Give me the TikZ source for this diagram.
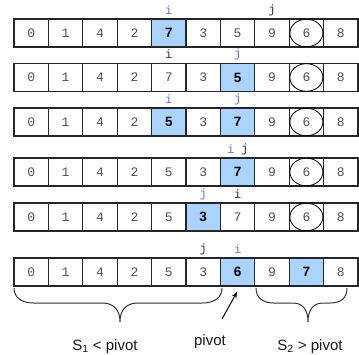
\documentclass[tikz,border=0pt]{standalone}
\usepackage{fontspec}
\setmainfont{Liberation Sans}
\newfontfamily\cellfont{Liberation Mono}
\usetikzlibrary{arrows.meta}
\definecolor{hl}{HTML}{AAD4FF}
\definecolor{ptr}{HTML}{6B6BE6}
\definecolor{num}{HTML}{505050}
\tikzset{
  cell/.style={draw=black!85, line width=1.1pt, minimum width=34.4pt,
    minimum height=28pt, inner sep=0pt, outer sep=0pt,
    font=\cellfont\fontsize{13}{13}\selectfont, text=num},
  hot/.style={fill=hl, font=\bfseries\fontsize{13.5}{13.5}\selectfont, text=black},
  ptrb/.style={inner sep=0pt, font=\cellfont\fontsize{12}{12}\selectfont, text=ptr},
  ptrk/.style={inner sep=0pt, font=\cellfont\fontsize{12}{12}\selectfont, text=black!80},
  pivmark/.style={draw=black, line width=0.8pt},
  bracepath/.style={draw=black!80, line width=1pt},
  lbl/.style={inner sep=0pt, font=\fontsize{15}{15}\selectfont, text=black!90},
  % highlighted cells, row-column
  c1-4/.style={hot}, c2-6/.style={hot}, c3-4/.style={hot}, c3-6/.style={hot},
  c4-6/.style={hot}, c5-5/.style={hot}, c6-6/.style={hot}, c6-8/.style={hot},
}
\begin{document}
\begin{tikzpicture}[x=1pt, y=-1pt]
\useasboundingbox (0,0) rectangle (359,354);

% the six states of the array
\foreach \r/\yc/\vals in {
  1/33/{0,1,4,2,7,3,5,9,6,8},
  2/77.5/{0,1,4,2,7,3,5,9,6,8},
  3/122/{0,1,4,2,5,3,7,9,6,8},
  4/172/{0,1,4,2,5,3,7,9,6,8},
  5/217/{0,1,4,2,5,3,7,9,6,8},
  6/272/{0,1,4,2,5,3,6,9,7,8}}{
  \foreach \v [count=\k from 0] in \vals {
    \node[cell, c\r-\k/.try] (r\r c\k) at (31.2+34.4*\k, \yc) {\v};
  }
}

% the pivot value, circled in the first five states
\foreach \r in {1,...,5}{
  \draw[pivmark] (r\r c8.center) ellipse [x radius=16.5, y radius=13.8];
}

% index markers
\node[ptrb] (i1) at ([yshift=9pt]r1c4.north) {i};
\node[ptrk] (j1) at ([yshift=9pt]r1c7.north) {j};
\node[ptrk] (i2) at ([yshift=9pt]r2c4.north) {i};
\node[ptrb] (j2) at ([yshift=9pt]r2c6.north) {j};
\node[ptrb] (i3) at ([yshift=9pt]r3c4.north) {i};
\node[ptrb] (j3) at ([yshift=9pt]r3c6.north) {j};
\node[ptrb] (i4) at ([xshift=-7pt,yshift=9pt]r4c6.north) {i};
\node[ptrk] (j4) at ([xshift=7pt,yshift=9pt]r4c6.north) {j};
\node[ptrb] (j5) at ([yshift=9pt]r5c5.north) {j};
\node[ptrk] (i5) at ([yshift=9pt]r5c6.north) {i};
\node[ptrk] (j6) at ([yshift=9pt]r6c5.north) {j};
\node[ptrb] (i6) at ([yshift=9pt]r6c6.north) {i};

% braces under the final state
\draw[bracepath] (14,288) .. controls (14,298) and (22,303) .. (34,303)
  -- (102,303) .. controls (114,303) and (120,310) .. (120,322)
  .. controls (120,310) and (126,303) .. (138,303)
  -- (202,303) .. controls (214,303) and (222,298) .. (222,288);
\draw[bracepath] (256,288) .. controls (256,298) and (263,303) .. (274,303)
  -- (293,303) .. controls (303,303) and (308,310) .. (308,322)
  .. controls (308,310) and (313,303) .. (323,303)
  -- (330,303) .. controls (341,303) and (347,298) .. (347,288);

% captions
\node[lbl, anchor=base] (s1) at (105,350) {S\textsubscript{1} < pivot};
\node[lbl, anchor=base] (pv) at (210,345) {pivot};
\node[lbl, anchor=base] (s2) at (310,350) {S\textsubscript{2} > pivot};

\coordinate (arrtail) at (222,319);
\coordinate (arrhead) at (237,292);
\draw[-{Stealth[length=6pt,width=5pt]}, line width=1pt] (arrtail) -- (arrhead);
\end{tikzpicture}
\end{document}
